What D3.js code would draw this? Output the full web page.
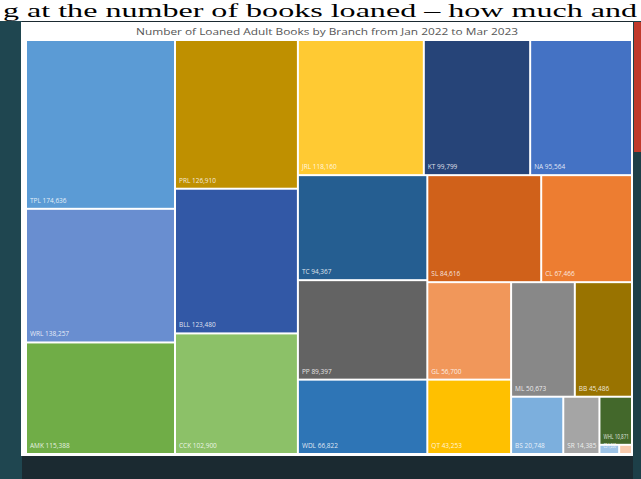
<!DOCTYPE html>
<html><head><meta charset="utf-8">
<script src="https://cdn.jsdelivr.net/npm/d3@7"></script>
<style>html,body{margin:0;padding:0;background:#1b2a31;overflow:hidden}</style>
</head><body>
<svg id="c" width="641" height="479"></svg>
<script>
const branches = ["TPL","WRL","AMK","PRL","BLL","CCK","JRL","KT","NA","TC","PP","WDL","SL","CL","GL","QT","ML","BB","BS","SR","WHL","CS","LP"];
const loans = [174636,138257,115388,126910,123480,102900,118160,99799,95564,94367,89397,66822,84616,67466,56700,43253,50673,45486,20748,14385,10871,1260,819];
const palette = ["#5B9BD5","#698ED0","#70AD47","#BF9000","#3258A6","#8CC168","#FFCA33","#264478","#4472C4","#255E91","#636363","#2E75B6","#D0611A","#ED7D31","#F1975A","#FFC000","#888888","#997300","#7CAFDD","#A5A5A5","#43682B","#9DC3E6","#F8CBAD"];
const title = "Number of Loaned Adult Books by Branch from Jan 2022 to Mar 2023";
const caption = "g at the number of books loaned \u2013 how much and";

const svg = d3.select("#c");
// photo surroundings
svg.append("rect").attr("x",0).attr("y",0).attr("width",641).attr("height",479).attr("fill","#1b2a31");
svg.append("rect").attr("x",0).attr("y",18).attr("width",22).attr("height",461).attr("fill","#1f4650");
svg.append("rect").attr("x",633).attr("y",18).attr("width",8).attr("height",461).attr("fill","#1d3f48");
svg.append("rect").attr("x",634).attr("y",22).attr("width",7).attr("height",130).attr("fill","#c0392b");
svg.append("rect").attr("x",0).attr("y",0).attr("width",641).attr("height",21).attr("fill","#ffffff");
svg.append("text").attr("x",3).attr("y",17).attr("font-family","Liberation Serif, serif")
  .attr("font-size",18).attr("fill","#000").attr("textLength",634).attr("lengthAdjust","spacingAndGlyphs").text(caption);
// panel
svg.append("rect").attr("x",21).attr("y",22).attr("width",612).attr("height",434).attr("fill","#ffffff");
svg.append("text").attr("x",327).attr("y",35).attr("text-anchor","middle")
  .attr("font-family","Open Sans, sans-serif").attr("font-size",9.5).attr("fill","#555555")
  .attr("textLength",382).attr("lengthAdjust","spacingAndGlyphs").text(title);

const W = 604, H = 412;
const root = d3.hierarchy({children: branches.map((b,i)=>({name:b, value:loans[i], color:palette[i]}))})
  .sum(d => d.value || 0);
d3.treemap().tile(d3.treemapSquarify.ratio(1.2)).size([W,H]).paddingInner(2)(root);

const g = svg.append("g").attr("transform","translate(27,41)");
const cell = g.selectAll("g").data(root.leaves()).join("g")
  .attr("transform", d => `translate(${d.x0},${d.y0})`);
cell.append("rect").attr("width", d => d.x1-d.x0).attr("height", d => d.y1-d.y0)
  .attr("fill", d => d.data.color);
const fmt = d3.format(",");
cell.filter(d => d.x1-d.x0 > 16).append("text")
  .attr("x",3).attr("y", d => d.y1-d.y0-5)
  .attr("font-family","Open Sans, sans-serif").attr("font-size",6.5)
  .attr("fill","#ffffff").attr("fill-opacity",0.85)
  .text(d => `${d.data.name}  ${fmt(d.data.value)}`)
  .each(function(d){
    const avail = d.x1-d.x0-5, len = this.getComputedTextLength();
    if (len > avail) d3.select(this).attr("textLength", avail).attr("lengthAdjust","spacingAndGlyphs");
  });
</script>
</body></html>
